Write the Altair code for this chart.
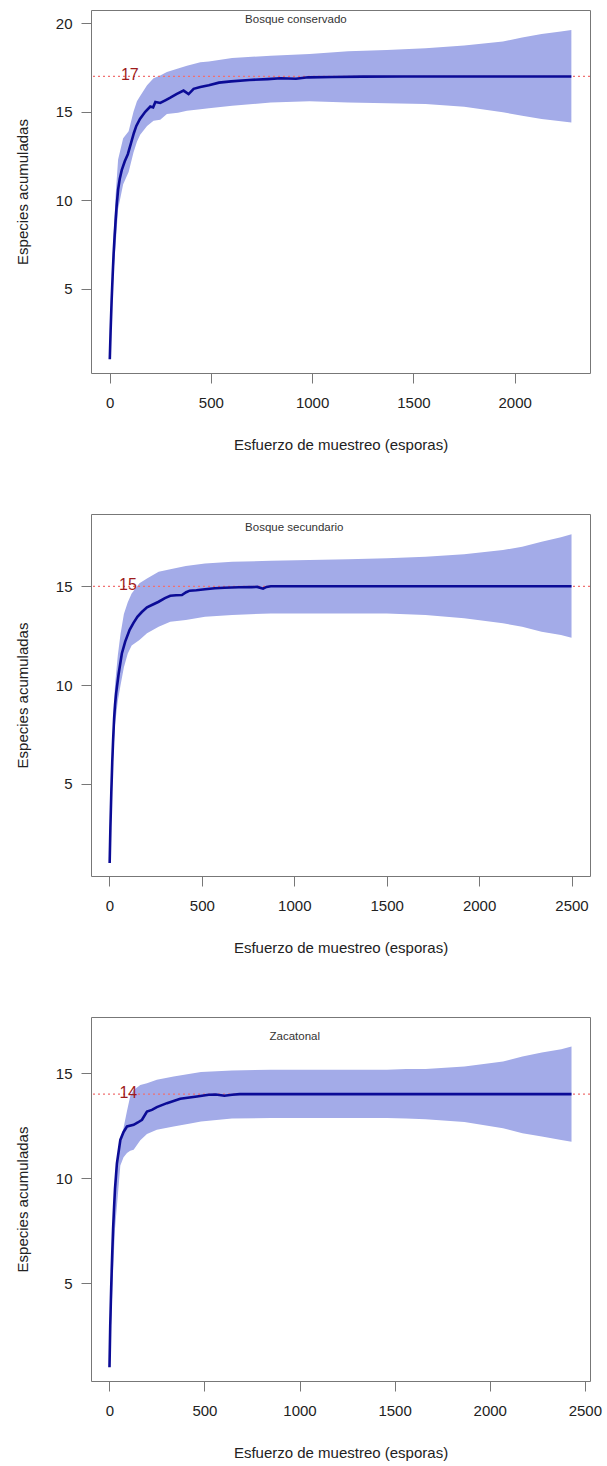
import altair as alt
import pandas as pd

# ---------------- data ----------------
# Panel 1: Bosque conservado
p1_name = "Bosque conservado"
p1_name_pos = [920, 20.19]
p1_asym = 17
p1_line_x = [1, 5, 10, 15, 20, 25, 30, 35, 42, 50, 60, 75, 90, 105, 120, 132, 150, 176, 201, 215, 226,
             250, 275, 300, 330, 365, 390, 415, 448, 490, 540, 600, 690, 780, 844, 920, 980, 1100, 1250,
             1450, 2280]
p1_line_y = [1, 2.6, 4.3, 5.7, 7.0, 8.0, 8.9, 9.7, 10.6, 11.2, 11.7, 12.2, 12.6, 13.2, 13.8, 14.2, 14.6,
             15.0, 15.3, 15.25, 15.55, 15.5, 15.65, 15.8, 16.0, 16.2, 16.0, 16.3, 16.4, 16.5, 16.65, 16.72,
             16.8, 16.85, 16.9, 16.87, 16.95, 16.97, 16.99, 17.0, 17.0]
p1_band_x = [1, 10, 20, 30, 42, 67, 94, 118, 135, 151, 185, 217, 250, 283, 338, 382, 448, 490, 605, 796,
             987, 1178, 1369, 1560, 1751, 1942, 2037, 2133, 2228, 2280]
p1_band_hi = [1, 5.0, 8.0, 10.3, 12.3, 13.5, 13.9, 15.0, 15.6, 15.9, 16.5, 16.9, 17.05, 17.25, 17.45,
              17.6, 17.8, 17.85, 18.05, 18.17, 18.27, 18.42, 18.49, 18.6, 18.75, 18.98, 19.2, 19.4,
              19.55, 19.63]
p1_band_lo = [1, 3.6, 6.0, 7.5, 9.5, 10.9, 11.6, 12.7, 13.3, 13.7, 14.2, 14.5, 14.55, 14.87, 14.95,
              15.06, 15.15, 15.2, 15.34, 15.53, 15.6, 15.53, 15.49, 15.44, 15.29, 14.97, 14.78, 14.59,
              14.46, 14.4]
p1_xticks = [0, 500, 1000, 1500, 2000]
p1_yticks = [5, 10, 15, 20]

# Panel 2: Bosque secundario
p2_name = "Bosque secundario"
p2_name_pos = [1000, 17.93]
p2_asym = 15
p2_line_x = [1, 5, 10, 15, 20, 25, 30, 36, 50, 67, 85, 109, 130, 151, 175, 203, 235, 266, 300, 329, 360,
             392, 415, 434, 470, 517, 570, 622, 700, 768, 800, 831, 850, 873, 2500]
p2_line_y = [1, 2.8, 4.6, 6.1, 7.3, 8.3, 9.0, 9.6, 10.6, 11.6, 12.2, 12.8, 13.15, 13.46, 13.7, 13.94,
             14.08, 14.22, 14.4, 14.52, 14.55, 14.56, 14.7, 14.78, 14.8, 14.85, 14.9, 14.93, 14.95,
             14.96, 14.97, 14.88, 14.97, 15.0, 15.0]
p2_band_x = [1, 10, 20, 30, 45, 60, 78, 99, 120, 162, 203, 266, 329, 413, 517, 664, 873, 1082, 1292,
             1501, 1710, 1919, 2129, 2233, 2338, 2443, 2500]
p2_band_hi = [1, 5.2, 8.1, 10.0, 11.5, 12.6, 13.6, 14.2, 14.64, 15.15, 15.4, 15.74, 15.86, 16.03, 16.16,
              16.24, 16.29, 16.33, 16.37, 16.42, 16.5, 16.62, 16.84, 17.0, 17.26, 17.48, 17.63]
p2_band_lo = [1, 3.9, 6.4, 8.0, 9.2, 10.0, 10.9, 11.6, 12.0, 12.28, 12.62, 12.96, 13.21, 13.3, 13.46,
              13.55, 13.63, 13.63, 13.63, 13.63, 13.55, 13.38, 13.13, 12.96, 12.7, 12.54, 12.4]
p2_xticks = [0, 500, 1000, 1500, 2000, 2500]
p2_yticks = [5, 10, 15]

# Panel 3: Zacatonal
p3_name = "Zacatonal"
p3_name_pos = [975, 16.74]
p3_asym = 14
p3_line_x = [1, 5, 10, 15, 20, 25, 30, 40, 58, 75, 93, 128, 150, 172, 198, 224, 250, 303, 373, 461, 523,
             560, 605, 645, 686, 2430]
p3_line_y = [1, 3.0, 4.8, 6.3, 7.6, 8.6, 9.5, 10.7, 11.82, 12.2, 12.46, 12.54, 12.65, 12.78, 13.17,
             13.25, 13.38, 13.57, 13.78, 13.89, 13.97, 13.98, 13.92, 13.97, 14.0, 14.0]
p3_band_x = [1, 10, 20, 30, 45, 58, 75, 93, 110, 128, 163, 198, 250, 338, 426, 482, 645, 849, 1053, 1256,
             1460, 1561, 1663, 1867, 2070, 2172, 2274, 2376, 2430]
p3_band_hi = [1, 5.0, 7.8, 9.6, 10.9, 11.6, 12.4, 13.2, 13.9, 14.2, 14.44, 14.52, 14.68, 14.84, 14.97,
              15.05, 15.12, 15.16, 15.16, 15.16, 15.16, 15.2, 15.19, 15.32, 15.55, 15.79, 15.98, 16.14,
              16.27]
p3_band_lo = [1, 3.2, 5.6, 7.6, 9.2, 10.6, 11.0, 11.2, 11.3, 11.35, 11.8, 12.1, 12.3, 12.46, 12.6, 12.7,
              12.84, 12.86, 12.86, 12.86, 12.86, 12.84, 12.81, 12.67, 12.38, 12.14, 11.98, 11.82, 11.74]
p3_xticks = [0, 500, 1000, 1500, 2000, 2500]
p3_yticks = [5, 10, 15]

x_title = "Esfuerzo de muestreo (esporas)"
y_title = "Especies acumuladas"
label_x = 100

# ---------------- styling ----------------
BAND = "#A3ABE8"
LINE = "#0B0B96"
FONT = "Liberation Sans"
INK = "#222222"
FRAME = "#777777"


def panel(name, name_pos, asym, lx, ly, bx, blo, bhi, xticks, yticks, xdom, ydom, h):
    xs = alt.Scale(domain=xdom, nice=False, zero=False)
    ys = alt.Scale(domain=ydom, nice=False, zero=False)
    xax = alt.Axis(values=xticks, format="d", title=x_title, grid=False, domain=False, tickSize=10,
                   tickColor=FRAME, labelFontSize=15, labelColor=INK, labelFont=FONT,
                   labelPadding=12, titleFont=FONT, titleFontSize=15, titleFontWeight="normal",
                   titleColor=INK, titleY=71, titleBaseline="middle", labelFlush=False)
    yax = alt.Axis(values=yticks, format="d", title=y_title, grid=False, domain=False, tickSize=10,
                   tickColor=FRAME, labelFontSize=15, labelColor=INK, labelFont=FONT,
                   labelPadding=9, titleFont=FONT, titleFontSize=15, titleFontWeight="normal",
                   titleColor=INK, titleX=-68.7, titleBaseline="middle", labelFlush=False)

    band_df = pd.DataFrame({"x": bx, "lo": blo, "hi": bhi})
    line_df = pd.DataFrame({"x": lx, "y": ly})
    asym_df = pd.DataFrame({"y": [asym], "x": [label_x], "t": [str(asym)]})
    name_df = pd.DataFrame({"x": [name_pos[0]], "y": [name_pos[1]], "t": [name]})

    band = alt.Chart(band_df).mark_area(color=BAND, opacity=1).encode(
        x=alt.X("x:Q", scale=xs, axis=xax),
        y=alt.Y("lo:Q", scale=ys, axis=yax),
        y2="hi:Q",
    )
    rule = alt.Chart(asym_df).mark_rule(color="#F07070", strokeDash=[2, 3], strokeWidth=1.3).encode(
        y=alt.Y("y:Q", scale=ys, axis=yax)
    )
    line = alt.Chart(line_df).mark_line(color=LINE, strokeWidth=2.6).encode(
        x=alt.X("x:Q", scale=xs, axis=xax),
        y=alt.Y("y:Q", scale=ys, axis=yax),
    )
    lab = alt.Chart(asym_df).mark_text(color="#9E1C1C", fontSize=16, font=FONT, baseline="middle",
                                       align="center", dy=-1).encode(
        x=alt.X("x:Q", scale=xs, axis=xax),
        y=alt.Y("y:Q", scale=ys, axis=yax),
        text="t:N",
    )
    ttl = alt.Chart(name_df).mark_text(color="#333333", fontSize=11.5, font=FONT, baseline="middle",
                                       align="center").encode(
        x=alt.X("x:Q", scale=xs, axis=xax),
        y=alt.Y("y:Q", scale=ys, axis=yax),
        text="t:N",
    )
    return alt.layer(band, rule, line, lab, ttl).properties(width=499, height=h)


c1 = panel(p1_name, p1_name_pos, p1_asym, p1_line_x, p1_line_y, p1_band_x, p1_band_lo, p1_band_hi,
           p1_xticks, p1_yticks, [-91.8, 2372], [0.22, 20.76], 363)
c2 = panel(p2_name, p2_name_pos, p2_asym, p2_line_x, p2_line_y, p2_band_x, p2_band_lo, p2_band_hi,
           p2_xticks, p2_yticks, [-100, 2600], [0.34, 18.66], 362)
c3 = panel(p3_name, p3_name_pos, p3_asym, p3_line_x, p3_line_y, p3_band_x, p3_band_lo, p3_band_hi,
           p3_xticks, p3_yticks, [-96.2, 2527.2], [0.35, 17.67], 364)

chart = alt.vconcat(c1, c2, c3, spacing=60).properties(
    padding={"left": 14, "top": 9, "right": 0, "bottom": 0},
    background="white",
).configure_view(stroke=FRAME, strokeWidth=1)

chart.save("out.html", embed_options={"renderer": "svg", "actions": False})
